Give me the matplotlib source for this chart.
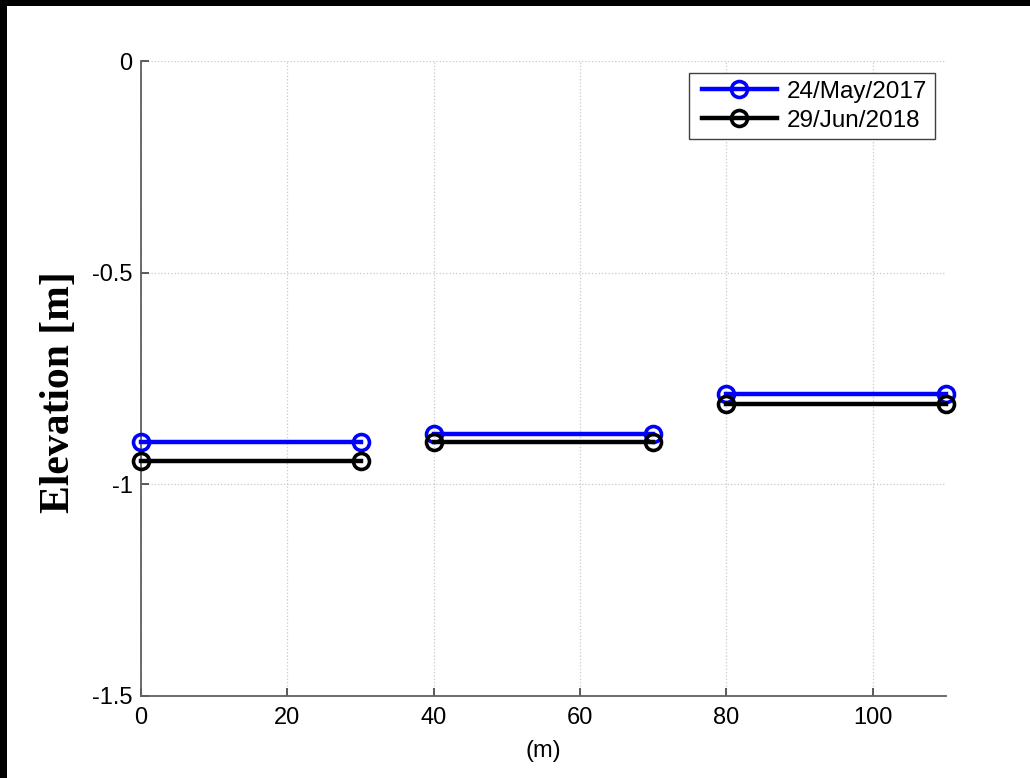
import numpy as np
import matplotlib.pyplot as plt
from matplotlib.patches import Rectangle
from matplotlib.legend_handler import HandlerLine2D

# Survey segments (m) and surveyed elevations (m)
seg_start = [0, 40, 80]
seg_end = [30, 70, 110]
elev_2017 = [-0.90, -0.882, -0.787]
elev_2018 = [-0.945, -0.901, -0.810]
dates = ['24/May/2017', '29/Jun/2018']


def seg_xy(starts, ends, vals):
    # join the flat segments into one line, broken by NaN gaps
    xs, ys = [], []
    for a, b, v in zip(starts, ends, vals):
        xs += [a, b, np.nan]
        ys += [v, v, np.nan]
    return xs[:-1], ys[:-1]


fig = plt.figure(figsize=(10.3, 7.78), dpi=100)
ax = fig.add_axes([141 / 1030, 1 - 696 / 778, 805 / 1030, 635 / 778])

x1, y1 = seg_xy(seg_start, seg_end, elev_2017)
x2, y2 = seg_xy(seg_start, seg_end, elev_2018)
l1, = ax.plot(x1, y1, color='#0000ff', lw=3.2, marker='o', ms=11.5,
              mfc='none', mew=2.6, label=dates[0], clip_on=False, zorder=3)
l2, = ax.plot(x2, y2, color='black', lw=3.2, marker='o', ms=11.5,
              mfc='none', mew=2.6, label=dates[1], clip_on=False, zorder=3)

ax.set_xlim(0, 110)
ax.set_ylim(-1.5, 0)
ax.set_xticks([0, 20, 40, 60, 80, 100])
ax.set_yticks([-1.5, -1, -0.5, 0])
ax.set_yticklabels(['-1.5', '-1', '-0.5', '0'])

ax.grid(True, linestyle=':', color='#c8c8c8', lw=0.9)
ax.set_axisbelow(True)

for side in ['top', 'right']:
    ax.spines[side].set_visible(False)
for side in ['left', 'bottom']:
    ax.spines[side].set_color('#606060')
    ax.spines[side].set_linewidth(1.3)

ax.tick_params(direction='in', length=6, width=1.2, color='#404040',
               labelsize=17, pad=6)
ax.tick_params(axis='x', pad=8)
for lab in ax.get_xticklabels() + ax.get_yticklabels():
    lab.set_fontfamily('Liberation Sans')

ax.set_xlabel('(m)', fontsize=17, fontfamily='Liberation Sans', labelpad=8)
ax.set_ylabel('Elevation [m]', fontsize=30, fontweight='bold',
              fontfamily='Liberation Serif')
ax.yaxis.set_label_coords(-0.078, 0.479)

# legend lines sit slightly in from the left edge of the box
handler = HandlerLine2D(xpad=0.2)
leg = ax.legend(loc='upper right', bbox_to_anchor=(0.9863, 0.981),
                borderaxespad=0, fancybox=False, framealpha=1,
                edgecolor='#404040', handlelength=3.3, handletextpad=0.4,
                labelspacing=0.28, borderpad=0.32,
                handler_map={l1: handler, l2: handler},
                prop={'family': 'Liberation Sans', 'size': 17.5})
leg.get_frame().set_linewidth(1.0)

# dark frame along the top and left edges of the figure
fig.add_artist(Rectangle((0, 1 - 6 / 778), 1, 6 / 778,
                         transform=fig.transFigure, color='black', lw=0))
fig.add_artist(Rectangle((0, 0), 7 / 1030, 1,
                         transform=fig.transFigure, color='black', lw=0))

fig.savefig('out.png', dpi=100)
